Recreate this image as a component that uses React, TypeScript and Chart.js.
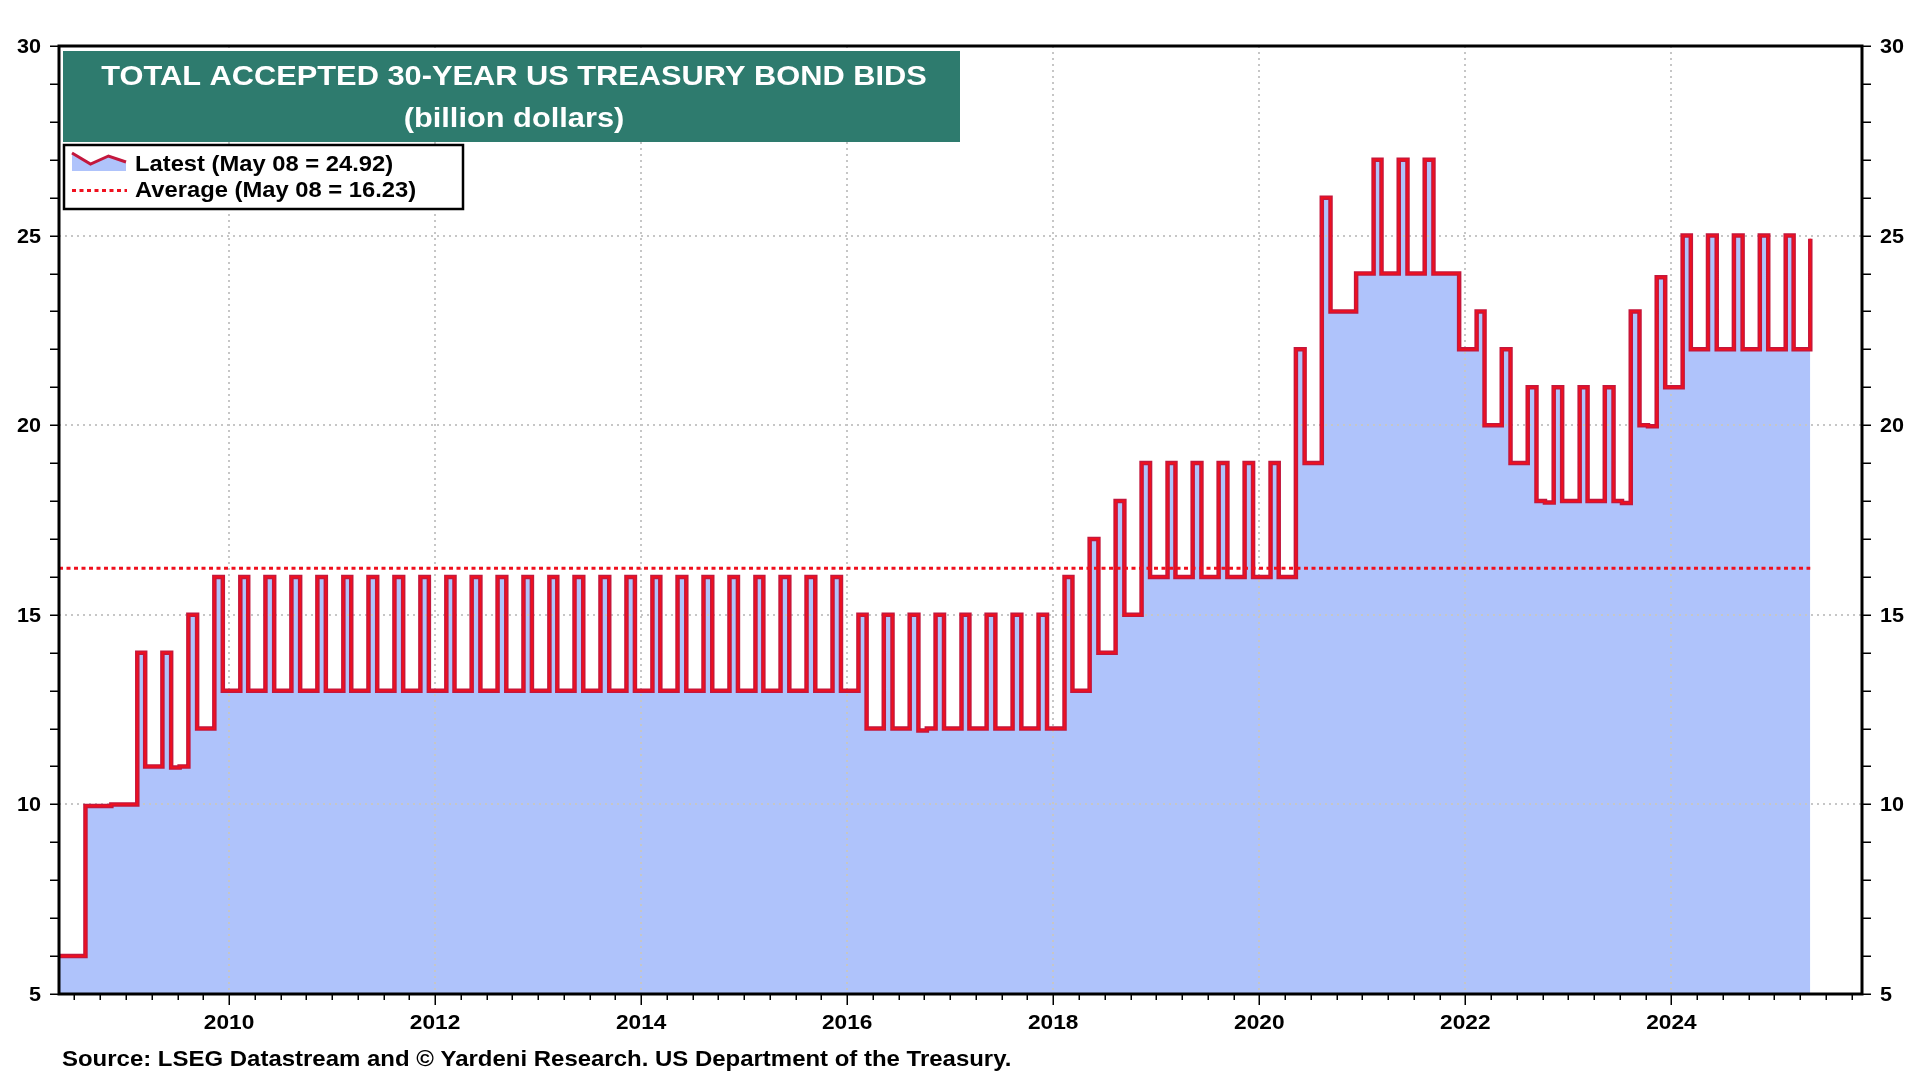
import React, { useEffect, useRef } from 'react';
import { Chart, registerables } from 'chart.js';

Chart.register(...registerables);

// ---------- DATA ----------
const START_YEAR = 2008;
const START_MONTH = 5;
const FIRST_DAY = 8; // first observation: May 08, 2008
const LAST_DAY = 8; // latest observation: May 08, 2025
const AUCTION_DAY = 10; // typical auction day of month

// Accepted bids per monthly auction, billion dollars
const bids2008 = [6, 6, 6, 9.96, 9.96, 9.96, 10, 10]; // May-Dec
const bids2009 = [10, 14, 11, 11, 14, 10.97, 11, 15, 12, 12, 16, 13];
const bids2010 = [13, 16, 13, 13, 16, 13, 13, 16, 13, 13, 16, 13];
const bids2011 = [13, 16, 13, 13, 16, 13, 13, 16, 13, 13, 16, 13];
const bids2012 = [13, 16, 13, 13, 16, 13, 13, 16, 13, 13, 16, 13];
const bids2013 = [13, 16, 13, 13, 16, 13, 13, 16, 13, 13, 16, 13];
const bids2014 = [13, 16, 13, 13, 16, 13, 13, 16, 13, 13, 16, 13];
const bids2015 = [13, 16, 13, 13, 16, 13, 13, 16, 13, 13, 16, 13];
const bids2016 = [13, 15, 12, 12, 15, 12, 12, 15, 11.95, 12, 15, 12];
const bids2017 = [12, 15, 12, 12, 15, 12, 12, 15, 12, 12, 15, 12];
const bids2018 = [12, 16, 13, 13, 17, 14, 14, 18, 15, 15, 19, 16];
const bids2019 = [16, 19, 16, 16, 19, 16, 16, 19, 16, 16, 19, 16];
const bids2020 = [16, 19, 16, 16, 22, 19, 19, 26, 23, 23, 23, 24];
const bids2021 = [24, 27, 24, 24, 27, 24, 24, 27, 24, 24, 24, 22];
const bids2022 = [22, 23, 20, 20, 22, 19, 19, 21, 18, 17.96, 21, 18];
const bids2023 = [18, 21, 18, 18, 21, 18, 17.95, 23, 20, 19.97, 23.9, 21];
const bids2024 = [21, 25, 22, 22, 25, 22, 22, 25, 22, 22, 25, 22];
const bids2025 = [22, 25, 22, 22, 24.92]; // Jan-May

const bidsByYear = [
  bids2008, bids2009, bids2010, bids2011, bids2012, bids2013, bids2014, bids2015,
  bids2016, bids2017, bids2018, bids2019, bids2020, bids2021, bids2022, bids2023,
  bids2024, bids2025,
];

const AVERAGE = 16.23;
const LATEST_LABEL = 'Latest (May 08 = 24.92)';
const AVERAGE_LABEL = 'Average (May 08 = 16.23)';
const TITLE_1 = 'TOTAL ACCEPTED 30-YEAR US TREASURY BOND BIDS';
const TITLE_2 = '(billion dollars)';
const SOURCE = 'Source: LSEG Datastream and \u00A9 Yardeni Research. US Department of the Treasury.';

const Y_MIN = 5;
const Y_MAX = 30;
const yTickLabels = [5, 10, 15, 20, 25, 30];
const yGridValues = [10, 15, 20, 25];
const xTickLabels = [2010, 2012, 2014, 2016, 2018, 2020, 2022, 2024];
const X_MAX = 2025.85;

// ---------- helpers ----------
function toYear(y: number, m: number, d: number) {
  const s = Date.UTC(y, 0, 1);
  const e = Date.UTC(y + 1, 0, 1);
  return y + (Date.UTC(y, m - 1, d) - s) / (e - s);
}

const points: { x: number; y: number }[] = [];
bidsByYear.forEach((arr, yi) => {
  const year = START_YEAR + yi;
  const m0 = yi === 0 ? START_MONTH : 1;
  arr.forEach((v, k) => {
    const isFirst = points.length === 0;
    const isLast = yi === bidsByYear.length - 1 && k === arr.length - 1;
    const day = isFirst ? FIRST_DAY : isLast ? LAST_DAY : AUCTION_DAY;
    points.push({ x: toYear(year, m0 + k, day), y: v });
  });
});
const X_MIN = points[0].x;
const X_LAST = points[points.length - 1].x;

const SX = 1.08; // horizontal text stretch
const FONT_FAMILY = '"Liberation Sans", Arial, Helvetica, sans-serif';
const FILL = '#afc3fb';
const LINE_DARK = '#c3173d';
const LINE_RED = '#f0101e';

function drawText(
  ctx: CanvasRenderingContext2D,
  text: string,
  x: number,
  y: number,
  font: string,
  align: 'left' | 'right' | 'center',
  color: string
) {
  ctx.save();
  ctx.font = font;
  ctx.fillStyle = color;
  ctx.textBaseline = 'alphabetic';
  ctx.textAlign = 'left';
  const w = ctx.measureText(text).width * SX;
  const left = align === 'left' ? x : align === 'right' ? x - w : x - w / 2;
  ctx.translate(left, y);
  ctx.scale(SX, 1);
  ctx.fillText(text, 0, 0);
  ctx.restore();
}

const decorPlugin = {
  id: 'decor',
  afterDatasetDraw(chart: any, args: any) {
    if (args.index !== 0) return;
    const { ctx, chartArea: a, scales } = chart;
    ctx.save();
    ctx.beginPath();
    ctx.rect(a.left, a.top, a.right - a.left, a.bottom - a.top);
    ctx.clip();
    ctx.strokeStyle = '#c6c6c6';
    ctx.lineWidth = 2;
    ctx.setLineDash([2, 4]);
    ctx.beginPath();
    yGridValues.forEach((v) => {
      const y = Math.round(scales.y.getPixelForValue(v));
      ctx.moveTo(a.left, y);
      ctx.lineTo(a.right, y);
    });
    xTickLabels.forEach((v) => {
      const x = Math.round(scales.x.getPixelForValue(v));
      ctx.moveTo(x, a.top);
      ctx.lineTo(x, a.bottom);
    });
    ctx.stroke();
    ctx.restore();
  },
  afterDraw(chart: any) {
    const { ctx, chartArea: a, scales } = chart;
    const xs = scales.x;
    const ys = scales.y;

    // tick marks
    ctx.save();
    ctx.strokeStyle = '#000';
    ctx.lineWidth = 1.5;
    ctx.beginPath();
    for (let v = Y_MIN; v <= Y_MAX; v++) {
      const y = Math.round(ys.getPixelForValue(v)) + 0.25;
      ctx.moveTo(a.left - 9, y);
      ctx.lineTo(a.left, y);
      ctx.moveTo(a.right, y);
      ctx.lineTo(a.right + 9, y);
    }
    const q0 = Math.ceil(X_MIN * 4);
    const q1 = Math.floor(X_MAX * 4);
    for (let q = q0; q <= q1; q++) {
      const v = q / 4;
      const x = Math.round(xs.getPixelForValue(v)) + 0.25;
      const major = xTickLabels.includes(v);
      ctx.moveTo(x, a.bottom);
      ctx.lineTo(x, a.bottom + (major ? 11 : 6));
    }
    ctx.stroke();
    ctx.restore();

    // frame
    ctx.save();
    ctx.strokeStyle = '#000';
    ctx.lineWidth = 3;
    ctx.strokeRect(a.left, a.top, a.right - a.left, a.bottom - a.top);
    ctx.restore();

    // tick labels
    const yFont = `bold 20px ${FONT_FAMILY}`;
    yTickLabels.forEach((v) => {
      const y = ys.getPixelForValue(v) + 7;
      drawText(ctx, String(v), a.left - 18, y, yFont, 'right', '#000');
      drawText(ctx, String(v), a.right + 18, y, yFont, 'left', '#000');
    });
    const xFont = `bold 21px ${FONT_FAMILY}`;
    xTickLabels.forEach((v) => {
      drawText(ctx, String(v), xs.getPixelForValue(v), a.bottom + 35, xFont, 'center', '#000');
    });

    // title box
    ctx.save();
    ctx.fillStyle = '#2e7b6e';
    ctx.fillRect(63, 51, 897, 91);
    ctx.restore();
    const tFont = `bold 28.5px ${FONT_FAMILY}`;
    drawText(ctx, TITLE_1, 514, 85, tFont, 'center', '#ffffff');
    drawText(ctx, TITLE_2, 514, 127, tFont, 'center', '#ffffff');

    // legend box
    ctx.save();
    ctx.fillStyle = '#ffffff';
    ctx.fillRect(64, 145, 399, 64);
    ctx.strokeStyle = '#000';
    ctx.lineWidth = 2.5;
    ctx.strokeRect(64, 145, 399, 64);
    // latest icon
    const icon = [
      [72, 153],
      [90.5, 164],
      [108.5, 156],
      [126, 162],
    ];
    ctx.beginPath();
    ctx.moveTo(icon[0][0], 171);
    icon.forEach(([px, py]) => ctx.lineTo(px, py));
    ctx.lineTo(icon[icon.length - 1][0], 171);
    ctx.closePath();
    ctx.fillStyle = FILL;
    ctx.fill();
    ctx.beginPath();
    icon.forEach(([px, py], i) => (i === 0 ? ctx.moveTo(px, py) : ctx.lineTo(px, py)));
    ctx.strokeStyle = LINE_DARK;
    ctx.lineWidth = 3;
    ctx.stroke();
    // average icon
    ctx.beginPath();
    ctx.setLineDash([4, 3.5]);
    ctx.moveTo(72, 190.5);
    ctx.lineTo(127, 190.5);
    ctx.strokeStyle = LINE_RED;
    ctx.lineWidth = 3;
    ctx.stroke();
    ctx.restore();
    const lFont = `bold 22px ${FONT_FAMILY}`;
    drawText(ctx, LATEST_LABEL, 135, 170.5, lFont, 'left', '#000');
    drawText(ctx, AVERAGE_LABEL, 135, 197, lFont, 'left', '#000');

    // source
    drawText(ctx, SOURCE, 62, 1066, `bold 22.2px ${FONT_FAMILY}`, 'left', '#000');
  },
};

export default function App() {
  const ref = useRef<HTMLCanvasElement>(null);
  useEffect(() => {
    document.body.style.margin = '0';
    const canvas = ref.current;
    if (!canvas) return;
    const chart = new Chart(canvas, {
      type: 'line',
      data: {
        datasets: [
          {
            label: 'fill',
            data: points,
            stepped: true,
            fill: 'start',
            backgroundColor: FILL,
            borderColor: 'rgba(0,0,0,0)',
            borderWidth: 0,
            pointRadius: 0,
            order: 4,
          },
          {
            label: 'Latest',
            data: points,
            stepped: true,
            fill: false,
            borderColor: LINE_DARK,
            borderWidth: 4.5,
            borderJoinStyle: 'miter',
            pointRadius: 0,
            order: 3,
          },
          {
            label: 'Latest core',
            data: points,
            stepped: true,
            fill: false,
            borderColor: LINE_RED,
            borderWidth: 1.8,
            borderJoinStyle: 'miter',
            pointRadius: 0,
            order: 2,
          },
          {
            label: 'Average',
            data: [
              { x: X_MIN, y: AVERAGE },
              { x: X_LAST, y: AVERAGE },
            ],
            fill: false,
            borderColor: LINE_RED,
            borderWidth: 3,
            borderDash: [4, 3.5],
            pointRadius: 0,
            order: 1,
          },
        ],
      },
      options: {
        responsive: false,
        animation: false,
        devicePixelRatio: 1,
        layout: { padding: { top: 46, left: 0, right: 0, bottom: 0 } },
        plugins: {
          legend: { display: false },
          tooltip: { enabled: false },
          title: { display: false },
        },
        events: [],
        scales: {
          x: {
            type: 'linear',
            min: X_MIN,
            max: X_MAX,
            grid: { display: false, drawTicks: false },
            border: { display: false },
            ticks: { display: false },
            afterFit: (s: any) => {
              s.height = 86;
            },
          },
          y: {
            type: 'linear',
            position: 'left',
            min: Y_MIN,
            max: Y_MAX,
            grid: { display: false, drawTicks: false },
            border: { display: false },
            ticks: { display: false },
            afterFit: (s: any) => {
              s.width = 59;
            },
          },
          y2: {
            type: 'linear',
            position: 'right',
            min: Y_MIN,
            max: Y_MAX,
            grid: { display: false, drawTicks: false },
            border: { display: false },
            ticks: { display: false },
            afterFit: (s: any) => {
              s.width = 58;
            },
          },
        },
      } as any,
      plugins: [decorPlugin],
    });
    return () => chart.destroy();
  }, []);
  return (
    <div style={{ position: 'absolute', left: 0, top: 0, width: 1920, height: 1080, background: '#ffffff' }}>
      <canvas ref={ref} width={1920} height={1080} style={{ width: 1920, height: 1080, display: 'block' }} />
    </div>
  );
}
